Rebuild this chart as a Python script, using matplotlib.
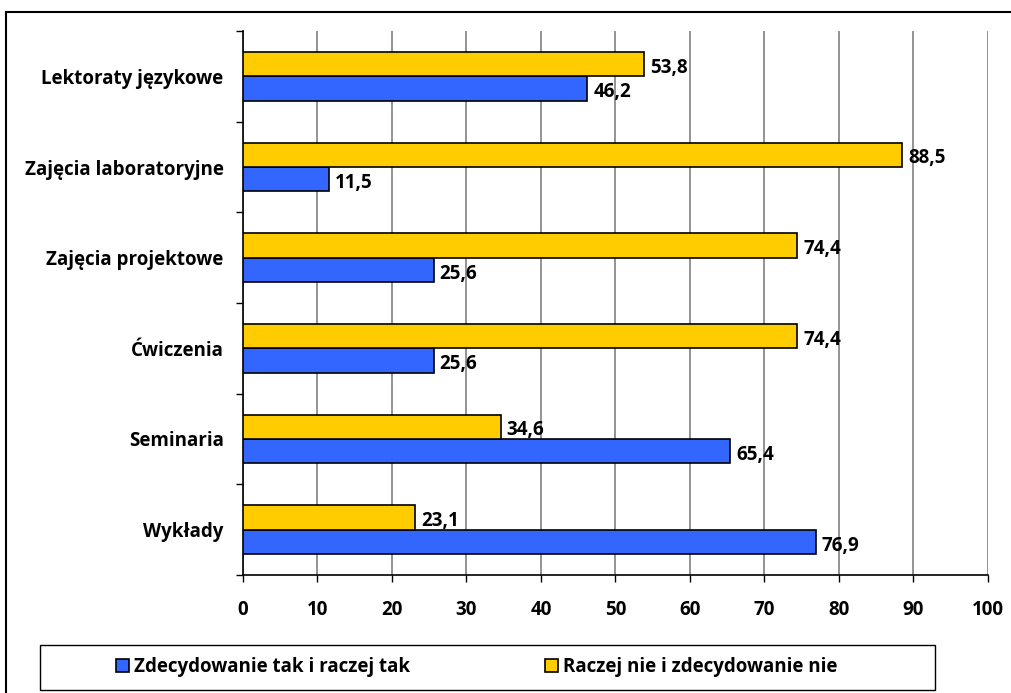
import matplotlib.pyplot as plt
import numpy as np
from matplotlib.patches import Rectangle

categories = ['Wykłady', 'Seminaria', 'Ćwiczenia', 'Zajęcia projektowe',
              'Zajęcia laboratoryjne', 'Lektoraty językowe']
tak = [76.9, 65.4, 25.6, 25.6, 11.5, 46.2]
nie = [23.1, 34.6, 74.4, 74.4, 88.5, 53.8]
series_names = ['Zdecydowanie tak i raczej tak', 'Raczej nie i zdecydowanie nie']

plt.rcParams['font.family'] = ['Open Sans', 'DejaVu Sans']
plt.rcParams['font.weight'] = 'bold'
fs = 13.5

fig = plt.figure(figsize=(10.12, 6.93), dpi=100)
ax = fig.add_axes([243 / 1012, 1 - 575 / 693, 745 / 1012, 544 / 693])

y = np.arange(len(categories))
h = 0.27
b1 = ax.barh(y - h / 2, tak, height=h, color='#3366FF', edgecolor='black', linewidth=1.2,
             label=series_names[0], zorder=3)
b2 = ax.barh(y + h / 2, nie, height=h, color='#FFCC00', edgecolor='black', linewidth=1.2,
             label=series_names[1], zorder=3)

for bars in (b1, b2):
    for r in bars:
        v = r.get_width()
        ax.text(v + 0.8, r.get_y() + r.get_height() / 2 - 0.04, f'{v:.1f}'.replace('.', ','),
                va='center', ha='left', fontsize=fs, fontweight='bold', zorder=4)

ax.set_xlim(0, 100)
ax.set_ylim(-0.5, len(categories) - 0.5)
ax.set_xticks(np.arange(0, 101, 10))
ax.set_yticks(y)
ax.set_yticklabels(categories)
ax.set_yticks(np.arange(-0.5, len(categories), 1), minor=True)
ax.tick_params(axis='y', which='major', length=0, pad=14, labelsize=fs)
ax.tick_params(axis='y', which='minor', length=5, width=1, direction='out')
ax.tick_params(axis='x', length=5, width=1, direction='out', pad=13, labelsize=fs)
for lab in ax.get_xticklabels() + ax.get_yticklabels():
    lab.set_fontweight('bold')

ax.grid(axis='x', color='#808080', linewidth=1.2, zorder=0)
for s in ['top', 'right']:
    ax.spines[s].set_visible(False)
ax.spines['left'].set_linewidth(1.2)
ax.spines['bottom'].set_linewidth(1.2)

# legend items without frame, box drawn separately
leg = fig.legend(handles=[b1, b2], loc='center', bbox_to_anchor=(477 / 1012, 1 - 667 / 693),
                 ncol=2, frameon=False, fontsize=fs,
                 handlelength=0.65, handleheight=0.65, handletextpad=0.3, columnspacing=7.2)
for t in leg.get_texts():
    t.set_fontweight('bold')
fig.patches.append(Rectangle((40 / 1012, 1 - 690 / 693), 895 / 1012, 45 / 693, transform=fig.transFigure,
                             fill=False, edgecolor='black', linewidth=1.0))

fig.patches.append(Rectangle((6 / 1012, -0.02), 1.0, 1 - 12 / 693 + 0.02, transform=fig.transFigure,
                             fill=False, edgecolor='black', linewidth=1.5))

fig.savefig('out.png', dpi=100)
